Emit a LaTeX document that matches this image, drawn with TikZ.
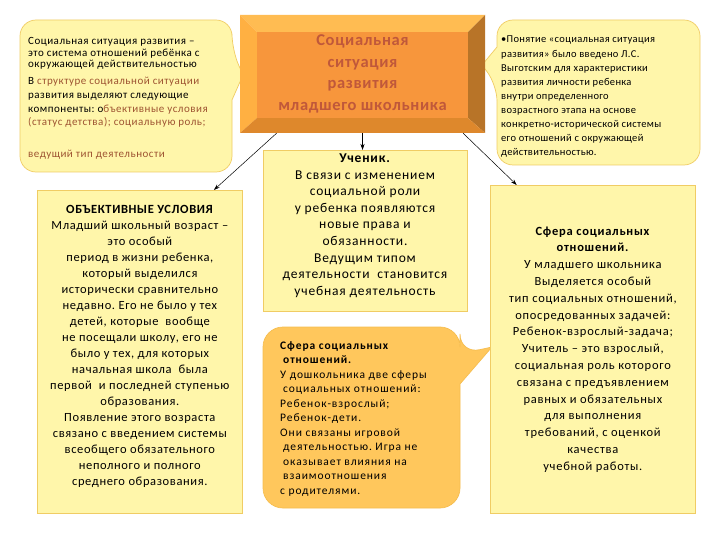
\documentclass[tikz,border=0pt]{standalone}
\usepackage{fontspec}
\setmainfont{Carlito}
\usetikzlibrary{arrows.meta, calc, positioning}
\frenchspacing

\definecolor{paleYellow}{RGB}{255,246,170}
\definecolor{paleEdge}{RGB}{240,204,100}
\definecolor{deepYellow}{RGB}{255,199,92}
\definecolor{deepEdge}{RGB}{246,190,80}
\definecolor{faceOrange}{RGB}{247,150,60}
\definecolor{topBevel}{RGB}{255,188,82}
\definecolor{leftBevel}{RGB}{255,176,66}
\definecolor{bottomBevel}{RGB}{222,136,44}
\definecolor{rightBevel}{RGB}{184,116,40}
\definecolor{titleText}{RGB}{192,88,58}
\definecolor{brownText}{RGB}{158,84,50}

\begin{document}
\begin{tikzpicture}[x=1pt, y=-1pt,
  panel/.style={draw=paleEdge, fill=paleYellow, line width=0.7pt},
  conn/.style={-{Stealth[length=6pt, width=4pt]}, line width=0.5pt}]
\useasboundingbox[fill=white] (0,0) rectangle (720,540);

% callouts
\draw[panel] (126,20) [rounded corners=16pt] -- (232,20) -- (232,50) [sharp corners] -- (243,75) -- (232,100) [rounded corners=16pt] -- (232,172) -- (20,172) -- (20,20) -- cycle;
\draw[panel] (597,20) [rounded corners=16pt] -- (700,20) -- (700,165) -- (497,165) -- (497,85) [sharp corners] -- (482,65) -- (497,47) [rounded corners=16pt] -- (497,20) -- cycle;
\draw[draw=deepEdge, fill=deepYellow, line width=0.7pt] (361,327) [rounded corners=20pt] -- (460,327) -- (460,354) [sharp corners] -- (492,347) -- (460,384) [rounded corners=20pt] -- (460,508) -- (263,508) -- (263,327) -- cycle;

% bevelled title
\fill[topBevel] (240,15) -- (485,15) -- (468,32) -- (257,32) -- cycle;
\fill[leftBevel] (240,15) -- (257,32) -- (257,118) -- (240,133) -- cycle;
\fill[rightBevel] (485,15) -- (485,133) -- (468,118) -- (468,32) -- cycle;
\fill[bottomBevel] (240,133) -- (257,118) -- (468,118) -- (485,133) -- cycle;
\fill[faceOrange] (257,32) rectangle (468,118);
\node[minimum width=245pt, minimum height=118pt, align=center, text=titleText,
  font=\fontsize{16.5}{21.7}\selectfont\addfontfeatures{LetterSpace=4}\bfseries] (title) at (362.5,74)
  {Социальная\\ситуация\\развития\\младшего школьника};

% texts of the callouts
\node[anchor=north west, inner sep=0pt, align=left,
  font=\fontsize{11}{11.7}\selectfont\addfontfeatures{LetterSpace=4.5}] (origin) at (28,37)
  {Социальная ситуация развития –\\
   это система отношений ребёнка с\\
   окружающей действительностью\\[5.3pt]
   В \textcolor{brownText}{структуре социальной ситуации}\\[2pt]
   развития выделяют следующие\\[2pt]
   компоненты: о\textcolor{brownText}{бъективные условия}\\[2pt]
   \textcolor{brownText}{(статус детства); социальную роль;}\\[20pt]
   \textcolor{brownText}{ведущий тип деятельности}};
\node[anchor=north west, inner sep=0pt, align=left,
  font=\fontsize{10.5}{14.1}\selectfont\addfontfeatures{LetterSpace=3}] (vygotsky) at (501,36)
  {•Понятие «социальная ситуация\\
   развития» было введено Л.С.\\
   Выготским для характеристики\\
   развития личности ребенка\\
   внутри определенного\\
   возрастного этапа на основе\\
   конкретно-исторической системы\\
   его отношений с окружающей\\
   действительностью.};
\node[anchor=north west, inner sep=0pt, align=left,
  font=\fontsize{11.5}{14.5}\selectfont\addfontfeatures{LetterSpace=8}] (preschool) at (280,341)
  {\textbf{Сфера социальных}\\
   \hspace*{3pt}\textbf{отношений.}\\
   У дошкольника две сферы\\
   \hspace*{3pt}социальных отношений:\\
   Ребенок-взрослый;\\
   Ребенок-дети.\\
   Они связаны игровой\\
   \hspace*{3pt}деятельностью. Игра не\\
   \hspace*{3pt}оказывает влияния на\\
   \hspace*{3pt}взаимоотношения\\
   с родителями.};

% panels
\node[panel, minimum width=204pt, minimum height=160pt, anchor=north, align=center,
  font=\fontsize{13.5}{16.6}\selectfont\addfontfeatures{LetterSpace=6}] (pupil) at (365,150)
  {\textbf{Ученик.}\\
   В связи с изменением\\
   социальной роли\\
   у ребенка появляются\\
   новые права и\\
   обязанности.\\
   Ведущим типом\\
   деятельности~ становится\\
   учебная деятельность\\[-4pt]};
\node[panel, minimum width=205pt, minimum height=323pt, anchor=north west, align=center,
  font=\fontsize{12.5}{16}\selectfont\addfontfeatures{LetterSpace=5}] (objective) at (37,190)
  {\textbf{ОБЪЕКТИВНЫЕ УСЛОВИЯ}\\
   Младший школьный возраст –\\
   это особый\\
   период в жизни ребенка,\\
   который выделился\\
   исторически сравнительно\\
   недавно. Его не было у тех\\
   детей, которые~ вообще\\
   не посещали школу, его не\\
   было у тех, для которых\\
   начальная школа~ была\\
   первой~ и последней ступенью\\
   образования.\\
   Появление этого возраста\\
   связано с введением системы\\
   всеобщего обязательного\\
   неполного и полного\\
   среднего образования.\\[-3pt]};
\node[panel, minimum width=205pt, minimum height=328pt, anchor=north west, align=center,
  font=\fontsize{12.5}{16.8}\selectfont\addfontfeatures{LetterSpace=6}] (social) at (490,185)
  {\textbf{Сфера социальных}\\
   \textbf{отношений.}\\
   У младшего школьника\\
   Выделяется особый\\
   тип социальных отношений,\\
   опосредованных задачей:\\
   Ребенок-взрослый-задача;\\
   Учитель – это взрослый,\\
   социальная роль которого\\
   связана с предъявлением\\
   равных и обязательных\\
   для выполнения\\
   требований, с оценкой\\
   качества\\
   учебной работы.};

% connectors
\draw[conn] ($(title.south west)!0.15!(title.south east)$) -- ($(objective.north west)!0.86!(objective.north east)$);
\draw[conn] (title.south) -- (title.south |- pupil.north);
\draw[conn] ($(title.south west)!0.91!(title.south east)$) -- ($(social.north west)!0.13!(social.north east)$);
\end{tikzpicture}
\end{document}
